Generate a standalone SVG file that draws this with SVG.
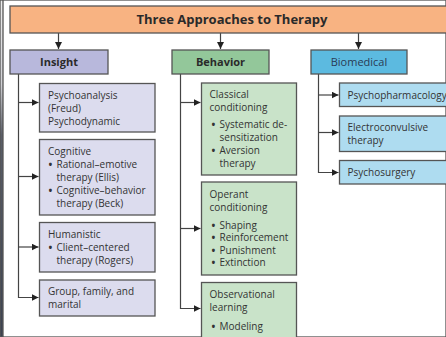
<svg xmlns="http://www.w3.org/2000/svg" width="446" height="337" viewBox="0 0 446 337">
<defs>
<marker id="ah" viewBox="0 0 10 10" refX="10" refY="5" markerWidth="7" markerHeight="7" markerUnits="userSpaceOnUse" orient="auto">
<path d="M0,0 L10,5 L0,10 Z" fill="#222"/>
</marker>
<linearGradient id="edge" x1="0" y1="0" x2="0" y2="1">
<stop offset="0" stop-color="#ececec"/>
<stop offset="0.25" stop-color="#d0d0d4"/>
<stop offset="0.4" stop-color="#5a5e68"/>
<stop offset="1" stop-color="#3c4250"/>
</linearGradient>
</defs>
<style>
text{font-family:"Open Sans","Liberation Sans",sans-serif;font-size:10px;fill:#333;}
.t{font-size:13px;font-weight:bold;fill:#2a2a2a;}
.h{font-size:11px;font-weight:bold;fill:#2a2a2a;}
.hb{font-size:11px;fill:#2a3a55;}
.b{font-weight:bold;}
rect{stroke:#555;stroke-width:1.3;}
.ins{fill:#dcdcee;}
.beh{fill:#c9e3c9;}
.bio{fill:#aedcf0;}
.c{fill:none;stroke:#444;stroke-width:1.2;}
</style>
<rect x="0" y="0" width="446" height="337" fill="#fff" stroke="none"/>
<rect x="0" y="0" width="3" height="337" fill="url(#edge)" stroke="none"/>

<g id="connectors">
<path class="c" d="M58.5,33 V49" marker-end="url(#ah)"/>
<path class="c" d="M220.5,33 V49" marker-end="url(#ah)"/>
<path class="c" d="M358.5,33 V49" marker-end="url(#ah)"/>
<path class="c" d="M18.5,74 V297.5 H38.5" marker-end="url(#ah)"/>
<path class="c" d="M18.5,102.5 H38.5" marker-end="url(#ah)"/>
<path class="c" d="M18.5,176.5 H38.5" marker-end="url(#ah)"/>
<path class="c" d="M18.5,247 H38.5" marker-end="url(#ah)"/>
<path class="c" d="M180.5,74 V308.5 H200.5" marker-end="url(#ah)"/>
<path class="c" d="M180.5,102.5 H200.5" marker-end="url(#ah)"/>
<path class="c" d="M180.5,228.5 H200.5" marker-end="url(#ah)"/>
<path class="c" d="M318.5,74 V172.5 H338.5" marker-end="url(#ah)"/>
<path class="c" d="M318.5,95 H338.5" marker-end="url(#ah)"/>
<path class="c" d="M318.5,132.5 H338.5" marker-end="url(#ah)"/>
</g>

<g id="title">
<rect x="10" y="6" width="445" height="27" fill="#f8b382"/>
<text class="t" x="232" y="24" text-anchor="middle">Three Approaches to Therapy</text>
</g>

<g id="insight">
<rect x="10" y="50" width="98" height="24" fill="#b8b8dc"/>
<text class="h" x="59" y="66" text-anchor="middle">Insight</text>
</g>
<g id="behavior">
<rect x="172" y="50" width="97" height="24" fill="#93c79a"/>
<text class="h" x="220.5" y="66" text-anchor="middle">Behavior</text>
</g>
<g id="biomedical">
<rect x="311" y="50" width="96" height="24" fill="#5cbae0"/>
<text class="hb" x="359" y="66" text-anchor="middle">Biomedical</text>
</g>

<g id="psychoanalysis">
<rect class="ins" x="39.5" y="83.5" width="115.5" height="48.5"/>
<text x="48" y="99">Psychoanalysis</text>
<text x="48" y="112">(Freud)</text>
<text x="48" y="125">Psychodynamic</text>
</g>
<g id="cognitive">
<rect class="ins" x="39.5" y="139.5" width="115.5" height="75.5"/>
<text x="48" y="155">Cognitive</text>
<text class="b" x="48.5" y="168">•</text><text x="56.5" y="168">Rational–emotive</text>
<text x="56.5" y="181">therapy (Ellis)</text>
<text class="b" x="48.5" y="194">•</text><text x="56.5" y="194">Cognitive–behavior</text>
<text x="56.5" y="207">therapy (Beck)</text>
</g>
<g id="humanistic">
<rect class="ins" x="39.5" y="222.5" width="115.5" height="49.5"/>
<text x="48" y="238">Humanistic</text>
<text class="b" x="48.5" y="251">•</text><text x="56.5" y="251">Client–centered</text>
<text x="56.5" y="264">therapy (Rogers)</text>
</g>
<g id="group">
<rect class="ins" x="39.5" y="280" width="115.5" height="36"/>
<text x="48" y="295">Group, family, and</text>
<text x="48" y="308">marital</text>
</g>

<g id="classical">
<rect class="beh" x="201.5" y="83" width="95" height="92"/>
<text x="209.5" y="97.5">Classical</text>
<text x="209.5" y="110.5">conditioning</text>
<text class="b" x="211.5" y="128">•</text><text x="219.5" y="128">Systematic de-</text>
<text x="219.5" y="141">sensitization</text>
<text class="b" x="211.5" y="154">•</text><text x="219.5" y="154">Aversion</text>
<text x="219.5" y="167">therapy</text>
</g>
<g id="operant">
<rect class="beh" x="201.5" y="182" width="95" height="93"/>
<text x="209.5" y="198">Operant</text>
<text x="209.5" y="211">conditioning</text>
<text class="b" x="211.5" y="228.5">•</text><text x="219.5" y="228.5">Shaping</text>
<text class="b" x="211.5" y="241">•</text><text x="219.5" y="241">Reinforcement</text>
<text class="b" x="211.5" y="253.5">•</text><text x="219.5" y="253.5">Punishment</text>
<text class="b" x="211.5" y="266">•</text><text x="219.5" y="266">Extinction</text>
</g>
<g id="observational">
<rect class="beh" x="201.5" y="282.5" width="95" height="60"/>
<text x="209.5" y="298">Observational</text>
<text x="209.5" y="311">learning</text>
<text class="b" x="211.5" y="329.5">•</text><text x="219.5" y="329.5">Modeling</text>
</g>

<g id="psychopharmacology">
<rect class="bio" x="339.5" y="83" width="115" height="23.5"/>
<text x="347.5" y="98.5">Psychopharmacology</text>
</g>
<g id="ect">
<rect class="bio" x="339.5" y="116" width="115" height="35.5"/>
<text x="347.5" y="131">Electroconvulsive</text>
<text x="347.5" y="143.5">therapy</text>
</g>
<g id="psychosurgery">
<rect class="bio" x="339.5" y="160.5" width="115" height="23.5"/>
<text x="347.5" y="176">Psychosurgery</text>
</g>
</svg>
